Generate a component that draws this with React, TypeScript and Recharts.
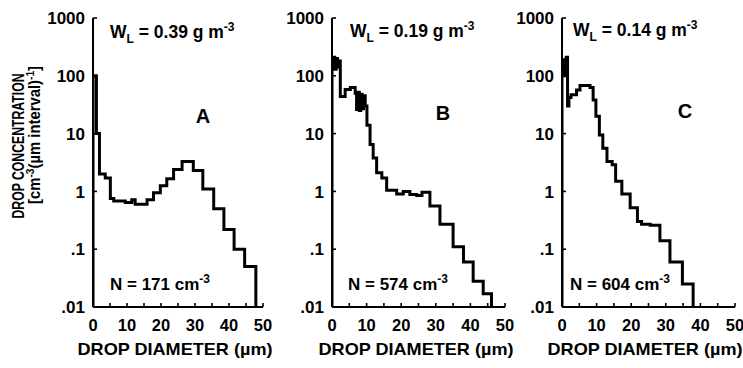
import React from 'react';
import { LineChart, Line, XAxis, YAxis } from 'recharts';

// ---- Data ----
const xTicks = [0, 5, 10, 15, 20, 25, 30, 35, 40, 45, 50];
const xTickLabels = ['0', '', '10', '', '20', '', '30', '', '40', '', '50'];
const yTicks = [0.01, 0.1, 1, 10, 100, 1000];
const yTickLabels = ['.01', '.1', '1', '10', '100', '1000'];

// Panel A: bin edges (µm) and concentrations
const aEdges = [0, 1.0, 1.9, 3.6, 5.1, 6.1, 9.5, 11.4, 12.4, 15.9, 17.8, 19.8, 21.7, 23.7, 26.2, 29.5, 32.3, 35.5, 38.5, 41.5, 44.6, 47.9];
const aValues = [100, 10, 2.0, 1.7, 0.75, 0.68, 0.64, 0.72, 0.6, 0.72, 0.95, 1.25, 1.65, 2.4, 3.3, 2.3, 1.1, 0.5, 0.22, 0.1, 0.05];

// Panel B
const bEdges = [0, 0.4, 0.8, 1.2, 1.6, 2.0, 2.4, 3.8, 5.3, 6.7, 7.1, 7.5, 7.9, 8.3, 8.7, 9.1, 9.6, 10.1, 11, 11.9, 12.9, 14.4, 15.8, 18.7, 20.6, 22.5, 24.5, 26, 28.3, 31.2, 35, 38, 40.8, 43.7, 46.1];
const bValues = [150, 210, 130, 200, 140, 180, 44, 58, 63, 50, 26, 52, 25, 48, 27, 45, 30, 14, 6.5, 3.8, 2.1, 1.7, 1.05, 0.9, 1.0, 0.88, 0.85, 0.97, 0.56, 0.27, 0.11, 0.06, 0.028, 0.017];

// Panel C
const cEdges = [0, 0.4, 0.8, 1.2, 1.6, 2.0, 2.6, 4.2, 5.2, 8.1, 9.0, 9.8, 10.8, 11.8, 13.0, 14.5, 15.5, 17.3, 19.7, 21.8, 23.0, 25.5, 28.3, 31.2, 34.8, 37.9];
const cValues = [120, 190, 100, 210, 30, 42, 47, 57, 68, 63, 38, 20, 9.5, 5.6, 3.3, 2.9, 1.5, 0.9, 0.52, 0.3, 0.27, 0.26, 0.14, 0.06, 0.025];

const panelLetters = ['A', 'B', 'C'];
const lwcValues = ['0.39', '0.19', '0.14'];
const nValues = ['171', '574', '604'];

const FLOOR = 0.01;

function buildSteps(edges: number[], values: number[]) {
  const pts: { d: number; v: number }[] = [{ d: edges[0], v: FLOOR }];
  values.forEach((v, i) => pts.push({ d: edges[i], v }));
  pts.push({ d: edges[edges.length - 1], v: FLOOR });
  return pts;
}

const FONT = '"Liberation Sans", Arial, Helvetica, sans-serif';

const fmtX = (v: number) => {
  const i = xTicks.indexOf(v);
  return i >= 0 ? xTickLabels[i] : '';
};
const fmtY = (v: number) => {
  const i = yTicks.findIndex((t) => Math.abs(t - v) / t < 1e-6);
  return i >= 0 ? yTickLabels[i] : '';
};

const X_MARGIN = 12;
const Y_MARGIN = 8;
const TICK_LEN = 4;

function XTick(p: any) {
  const ay = p.y - X_MARGIN;
  return (
    <g>
      <line x1={p.x} x2={p.x} y1={ay} y2={ay - TICK_LEN} stroke="#000" strokeWidth={1.6} />
      <text x={p.x} y={p.y} dy="0.71em" textAnchor="middle" fill="#000" fontSize={16.5} fontWeight="bold" fontFamily={FONT}>
        {fmtX(p.payload.value)}
      </text>
    </g>
  );
}

function YTick(p: any) {
  const ax = p.x + Y_MARGIN;
  return (
    <g>
      <line x1={ax} x2={ax + TICK_LEN} y1={p.y} y2={p.y} stroke="#000" strokeWidth={1.6} />
      <text x={p.x} y={p.y} dy="0.36em" textAnchor="end" fill="#000" fontSize={17} fontWeight="bold" fontFamily={FONT}>
        {fmtY(p.payload.value)}
      </text>
    </g>
  );
}

function Panel(props: { left: number; width: number; yw: number; mr: number; data: { d: number; v: number }[] }) {
  const { left, width, yw, mr, data } = props;
  return (
    <div style={{ position: 'absolute', left, top: 0 }}>
      <LineChart width={width} height={368} data={data} margin={{ top: 18, right: mr, bottom: 0, left: 0 }}>
        <XAxis
          dataKey="d"
          type="number"
          domain={[0, 50]}
          ticks={xTicks}
          interval={0}
          allowDataOverflow
          height={61}
          axisLine={{ stroke: '#000', strokeWidth: 2 }}
          tickLine={false}
          tickSize={0}
          tickMargin={X_MARGIN}
          tick={<XTick />}
        />
        <YAxis
          type="number"
          scale="log"
          domain={[0.01, 1000]}
          ticks={yTicks}
          interval={0}
          allowDataOverflow
          width={yw}
          axisLine={{ stroke: '#000', strokeWidth: 2 }}
          tickLine={false}
          tickSize={0}
          tickMargin={Y_MARGIN}
          tick={<YTick />}
        />
        <Line
          type="stepAfter"
          dataKey="v"
          stroke="#000"
          strokeWidth={3}
          dot={false}
          activeDot={false}
          isAnimationActive={false}
          strokeLinejoin="miter"
        />
      </LineChart>
    </div>
  );
}

const annot = [
  { wx: 110, wy: 38, lx: 203, ly: 123, nx: 110, ny: 290 },
  { wx: 350, wy: 37, lx: 443, ly: 120, nx: 348, ny: 290 },
  { wx: 573, wy: 36, lx: 685, ly: 118, nx: 570, ny: 290 },
];
const xTitleCenters = [175, 416, 645];

export default function App() {
  const dataA = buildSteps(aEdges, aValues);
  const dataB = buildSteps(bEdges, bValues);
  const dataC = buildSteps(cEdges, cValues);
  return (
    <div style={{ position: 'absolute', left: 0, top: 0, width: 743, height: 368, background: '#fff', overflow: 'hidden' }}>
      <Panel left={0} width={275} yw={93} mr={12} data={dataA} />
      <Panel left={275} width={240} yw={57} mr={10} data={dataB} />
      <Panel left={515} width={228} yw={47} mr={8} data={dataC} />
      <svg width={743} height={368} style={{ position: 'absolute', left: 0, top: 0, pointerEvents: 'none' }} fontFamily={FONT} fontWeight="bold" fill="#000">
        <text transform="translate(24,146) rotate(-90)" textAnchor="middle" fontSize={17} textLength={145} lengthAdjust="spacingAndGlyphs">DROP CONCENTRATION</text>
        <text transform="translate(40,135) rotate(-90)" textAnchor="middle" fontSize={16} textLength={138} lengthAdjust="spacingAndGlyphs">
          [cm<tspan fontSize={11} dy={-6}>-3</tspan><tspan dy={6}>(µm interval)</tspan><tspan fontSize={11} dy={-6}>-1</tspan><tspan dy={6}>]</tspan>
        </text>
        {annot.map((a, i) => (
          <g key={i}>
            <text x={a.wx} y={a.wy} fontSize={17.5}>
              W<tspan fontSize={12} dy={5}>L</tspan><tspan dy={-5}>{' = ' + lwcValues[i] + ' g m'}</tspan><tspan fontSize={12} dy={-7}>-3</tspan>
            </text>
            <text x={a.lx} y={a.ly} fontSize={20} textAnchor="middle">{panelLetters[i]}</text>
            <text x={a.nx} y={a.ny} fontSize={17}>
              {'N = ' + nValues[i] + ' cm'}<tspan fontSize={12} dy={-7}>-3</tspan>
            </text>
          </g>
        ))}
        {xTitleCenters.map((cx, i) => (
          <text key={i} x={cx} y={355} fontSize={17} textAnchor="middle" textLength={195} lengthAdjust="spacingAndGlyphs">DROP DIAMETER (µm)</text>
        ))}
      </svg>
    </div>
  );
}
